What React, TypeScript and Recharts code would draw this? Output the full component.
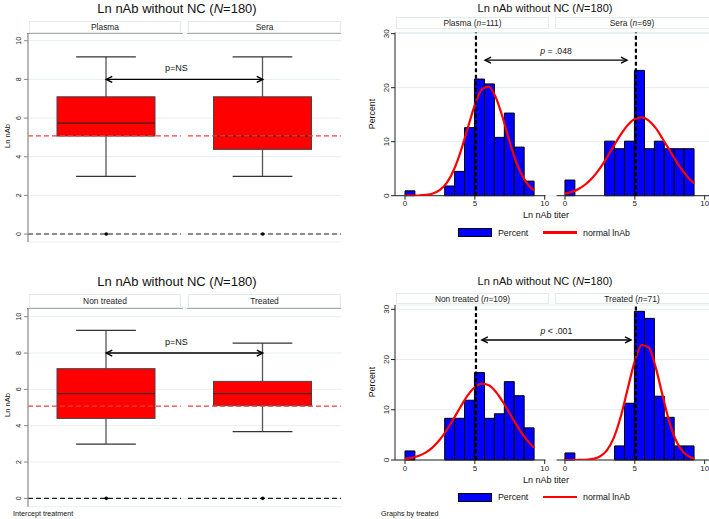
import React from "react";
import {
  ComposedChart,
  Bar,
  Line,
  XAxis,
  YAxis,
  CartesianGrid,
  ReferenceLine,
  ReferenceArea,
  ReferenceDot,
} from "recharts";

const FONT = '"Liberation Sans", Arial, Helvetica, sans-serif';

// box plots: Ln nAb by group
const boxTopCats = ["Plasma", "Sera"];
const boxTopLow = [2.98, 2.98];
const boxTopQ1 = [5.07, 4.38];
const boxTopMedian = [5.74, 5.07];
const boxTopQ3 = [7.1, 7.1];
const boxTopHigh = [9.17, 9.17];

const boxBotCats = ["Non treated", "Treated"];
const boxBotLow = [2.99, 3.67];
const boxBotQ1 = [4.4, 5.1];
const boxBotMedian = [5.76, 5.76];
const boxBotQ3 = [7.14, 6.44];
const boxBotHigh = [9.25, 8.55];

const boxTicks = [0, 2, 4, 6, 8, 10];
const cutoff = 5.08;
const boxArrowY = 8;

// histograms: percent per bin
const binEdges = [0, 0.71, 1.42, 2.13, 2.84, 3.55, 4.26, 4.97, 5.69, 6.4, 7.11, 7.82, 8.53, 9.24];
const pctPlasma = [0.9, 0, 0, 0, 1.8, 4.5, 12.6, 21.6, 20.7, 10.8, 15.3, 9.0, 2.7];
const pctSera = [2.9, 0, 0, 0, 10.1, 8.7, 10.1, 23.2, 8.7, 10.1, 8.7, 8.7, 8.7];
const pctNonTreated = [1.8, 0, 0, 0, 8.3, 8.3, 11.9, 17.4, 8.3, 9.2, 15.6, 12.8, 6.4];
const pctTreated = [1.4, 0, 0, 0, 0, 2.8, 11.3, 29.6, 28.2, 12.7, 8.5, 2.8, 2.8];

// normal density curves
const curveX = [0, 0.5, 1, 1.5, 2, 2.5, 3, 3.5, 4, 4.5, 5, 5.5, 6, 6.5, 7, 7.5, 8, 8.5, 9, 9.24];
const curvePlasma = [0.0, 0.01, 0.04, 0.14, 0.41, 1.06, 2.4, 4.8, 8.3, 12.6, 16.8, 19.7, 20.2, 18.2, 14.4, 9.9, 6.0, 3.2, 1.5, 1.0];
const curveSera = [0.38, 0.72, 1.29, 2.17, 3.42, 5.07, 7.06, 9.23, 11.35, 13.1, 14.2, 14.5, 13.9, 12.5, 10.5, 8.36, 6.23, 4.36, 2.87, 2.29];
const curveNonTreated = [0.21, 0.43, 0.84, 1.52, 2.57, 4.07, 6.02, 8.31, 10.7, 12.9, 14.5, 15.2, 14.9, 13.6, 11.6, 9.27, 6.9, 4.8, 3.12, 2.47];
const curveTreated = [0, 0, 0.01, 0.05, 0.21, 0.69, 1.92, 4.46, 8.7, 14.3, 19.7, 22.9, 22.4, 18.4, 12.7, 7.35, 3.58, 1.47, 0.51, 0.29];

const histYTicks = [0, 10, 20, 30];
const histTopStrips = [["Plasma", "111"], ["Sera", "69"]];
const histBotStrips = [["Non treated", "109"], ["Treated", "71"]];
// arrows: [left x, right x (right facet units), y]
const histTopArrow = [5.73, 4.44, 25.1];
const histBotArrow = [5.5, 4.73, 23.9];

// right facet is shifted on the shared x axis
const OFF = 11.45;
const histXTicks = [0, 5, 10, OFF, OFF + 5, OFF + 10];

const RotTick = (p: any) => (
  <text
    x={p.x}
    y={p.y}
    transform={`rotate(-90 ${p.x} ${p.y})`}
    textAnchor="middle"
    fontSize={p.fs}
    fontFamily={FONT}
    fill="#222"
  >
    {p.payload.value}
  </text>
);

const BoxShape = (props: any) => {
  const { x, y, width, height, payload } = props;
  const ppu = Math.abs(height) / (payload.high - payload.low);
  const top = Math.min(y, y + height);
  const py = (v: number) => top + (payload.high - v) * ppu;
  const cx = x + width / 2;
  const cap = width * 0.61;
  return (
    <g>
      <line x1={cx} x2={cx} y1={py(payload.high)} y2={py(payload.q3)} stroke="#555" strokeWidth={1.3} />
      <line x1={cx} x2={cx} y1={py(payload.q1)} y2={py(payload.low)} stroke="#555" strokeWidth={1.3} />
      <line x1={cx - cap / 2} x2={cx + cap / 2} y1={py(payload.high)} y2={py(payload.high)} stroke="#333" strokeWidth={1.3} />
      <line x1={cx - cap / 2} x2={cx + cap / 2} y1={py(payload.low)} y2={py(payload.low)} stroke="#333" strokeWidth={1.3} />
      <rect x={x} y={py(payload.q3)} width={width} height={py(payload.q1) - py(payload.q3)} fill="#ff0000" stroke="#444" strokeWidth={1} />
      <line x1={x} x2={x + width} y1={py(payload.median)} y2={py(payload.median)} stroke="#222" strokeWidth={1} />
    </g>
  );
};

// horizontal reference line broken between the two facets
const splitLine = (p: any) => {
  const mid = (p.x1 + p.x2) / 2;
  return (
    <g>
      <line x1={p.x1} x2={mid - 3.5} y1={p.y1} y2={p.y2} stroke={p.stroke} strokeWidth={p.strokeWidth} strokeDasharray={p.strokeDasharray} />
      <line x1={mid + 3.5} x2={p.x2} y1={p.y1} y2={p.y2} stroke={p.stroke} strokeWidth={p.strokeWidth} strokeDasharray={p.strokeDasharray} />
    </g>
  );
};

const arrowShape = (label: any, dx: number, dy: number, fs: number) => (p: any) => {
  const { x1, y1, x2 } = p;
  const h = 6;
  const w = 3;
  return (
    <g>
      <line x1={x1} y1={y1} x2={x2} y2={y1} stroke="#000" strokeWidth={1.4} />
      <polyline points={`${x1 + h},${y1 - w} ${x1},${y1} ${x1 + h},${y1 + w}`} fill="none" stroke="#000" strokeWidth={1.4} />
      <polyline points={`${x2 - h},${y1 - w} ${x2},${y1} ${x2 - h},${y1 + w}`} fill="none" stroke="#000" strokeWidth={1.4} />
      <text x={(x1 + x2) / 2 + dx} y={y1 - dy} textAnchor="middle" fontSize={fs} fontFamily={FONT} fill="#111">
        {label}
      </text>
    </g>
  );
};

const Txt = ({ x, y, size, children, rotate, align }: any) => (
  <div
    style={{
      position: "absolute",
      left: x,
      top: y,
      transform:
        (align === "left" ? "translate(0,-50%)" : "translate(-50%,-50%)") + (rotate ? " rotate(-90deg)" : ""),
      fontSize: size,
      whiteSpace: "nowrap",
      color: "#111",
      lineHeight: 1,
    }}
  >
    {children}
  </div>
);

const Strip = ({ x, y, w, h, size, children }: any) => (
  <div
    style={{
      position: "absolute",
      left: x,
      top: y,
      width: w,
      height: h,
      boxSizing: "border-box",
      border: "1px solid #e3ecec",
      display: "flex",
      alignItems: "center",
      justifyContent: "center",
      fontSize: size,
      color: "#222",
      whiteSpace: "nowrap",
    }}
  >
    {children}
  </div>
);

const Title = ({ x, y, size }: any) => (
  <Txt x={x} y={y} size={size}>
    Ln nAb without NC (<i>N</i>=180)
  </Txt>
);

function BoxPanel({ top, height, cats, low, q1, median, q3, high, yDomain, mTop, mBottom }: any) {
  const data = cats.map((c: string, i: number) => ({
    cat: c,
    low: low[i],
    q1: q1[i],
    median: median[i],
    q3: q3[i],
    high: high[i],
  }));
  return (
    <div style={{ position: "absolute", left: 0, top }}>
      <ComposedChart width={354} height={height} data={data} margin={{ top: mTop, right: 13, bottom: mBottom, left: 0 }}>
        <CartesianGrid vertical={false} stroke="#e6eff1" />
        <XAxis dataKey="cat" hide />
        <YAxis
          type="number"
          domain={yDomain}
          ticks={boxTicks}
          interval={0}
          allowDataOverflow
          width={28}
          axisLine={{ stroke: "#888", strokeWidth: 1.2 }}
          tickLine={{ stroke: "#888" }}
          tickSize={4}
          tickMargin={3}
          tick={(p: any) => <RotTick {...p} fs={7} />}
        />
        <ReferenceLine y={cutoff} stroke="#ff3b3b" strokeWidth={1.2} strokeDasharray="5 3" shape={splitLine} />
        <ReferenceLine y={0} stroke="#222" strokeWidth={1.1} strokeDasharray="5 3" shape={splitLine} />
        <Bar dataKey={(d: any) => [d.low, d.high]} barSize={98} shape={BoxShape} isAnimationActive={false} />
        <ReferenceDot x={cats[0]} y={0} r={1.8} fill="#000" stroke="none" />
        <ReferenceDot x={cats[1]} y={0} r={1.8} fill="#000" stroke="none" />
        <ReferenceLine
          segment={[
            { x: cats[0], y: boxArrowY },
            { x: cats[1], y: boxArrowY },
          ]}
          shape={arrowShape("p=NS", -8, 8, 9)}
        />
      </ComposedChart>
    </div>
  );
}

function HistPanel({ top, height, leftPct, rightPct, leftCurve, rightCurve, yTop, mTop, mBottom, arrow, pLabel }: any) {
  const leftData = curveX.map((x, i) => ({ x, y: leftCurve[i] }));
  const rightData = curveX.map((x, i) => ({ x: x + OFF, y: rightCurve[i] }));
  const bars: any[] = [];
  leftPct.forEach((v: number, i: number) => {
    if (v > 0) bars.push({ x1: binEdges[i], x2: binEdges[i + 1], v });
  });
  rightPct.forEach((v: number, i: number) => {
    if (v > 0) bars.push({ x1: binEdges[i] + OFF, x2: binEdges[i + 1] + OFF, v });
  });
  return (
    <div style={{ position: "absolute", left: 354, top }}>
      <ComposedChart width={355} height={height} margin={{ top: mTop, right: 0, bottom: mBottom, left: 0 }}>
        <CartesianGrid vertical={false} stroke="#e4eef0" />
        <XAxis
          type="number"
          dataKey="x"
          domain={[-0.716, 21.76]}
          allowDataOverflow
          ticks={histXTicks}
          interval={0}
          tickFormatter={(v: number) => (v > 10.5 ? String(Math.round(v - OFF)) : String(v))}
          axisLine={false}
          tickLine={{ stroke: "#222" }}
          tickSize={4}
          tickMargin={1}
          height={20}
          tick={{ fontSize: 8, fill: "#222", fontFamily: FONT }}
        />
        <YAxis
          type="number"
          domain={[0, yTop]}
          allowDataOverflow
          ticks={histYTicks}
          interval={0}
          width={41}
          axisLine={{ stroke: "#222" }}
          tickLine={{ stroke: "#222" }}
          tickSize={4}
          tickMargin={2}
          tick={(p: any) => <RotTick {...p} fs={8} />}
        />
        {bars.map((b, i) => (
          <ReferenceArea key={i} x1={b.x1} x2={b.x2} y1={0} y2={b.v} fill="#0000ff" fillOpacity={1} stroke="#000" strokeWidth={1} />
        ))}
        <ReferenceLine segment={[{ x: -0.716, y: 0 }, { x: 10.06, y: 0 }]} stroke="#222" strokeWidth={1} />
        <ReferenceLine segment={[{ x: OFF - 0.6, y: 0 }, { x: 21.76, y: 0 }]} stroke="#222" strokeWidth={1} />
        <Line data={leftData} dataKey="y" type="monotone" stroke="#ff0000" strokeWidth={2.2} dot={false} isAnimationActive={false} />
        <Line data={rightData} dataKey="y" type="monotone" stroke="#ff0000" strokeWidth={2.2} dot={false} isAnimationActive={false} />
        <ReferenceLine x={cutoff} stroke="#000" strokeWidth={2.2} strokeDasharray="4 2.5" />
        <ReferenceLine x={cutoff + OFF} stroke="#000" strokeWidth={2.2} strokeDasharray="4 2.5" />
        <ReferenceLine
          segment={[
            { x: arrow[0], y: arrow[2] },
            { x: arrow[1] + OFF, y: arrow[2] },
          ]}
          shape={arrowShape(pLabel, 0, 6, 8.7)}
        />
      </ComposedChart>
    </div>
  );
}

const Legend = ({ y }: any) => (
  <>
    <div style={{ position: "absolute", left: 458, top: y - 4.5, width: 34, height: 9, background: "#0000ff", border: "1px solid #000", boxSizing: "border-box" }} />
    <Txt x={498} y={y} size={8.8} align="left">Percent</Txt>
    <div style={{ position: "absolute", left: 543, top: y - 1.2, width: 34, height: 2.5, background: "#ff0000" }} />
    <Txt x={583} y={y} size={8.8} align="left">normal lnAb</Txt>
  </>
);

export default function App() {
  return (
    <div style={{ position: "relative", width: 709, height: 519, background: "#fff", fontFamily: FONT, overflow: "hidden" }}>
      <style>{`body{margin:0}`}</style>

      {/* top left: box plots by sample */}
      <Title x={177} y={8} size={13} />
      <Strip x={29} y={21} w={152} h={12} size={8.4}>{boxTopCats[0]}</Strip>
      <Strip x={188} y={21} w={153} h={12} size={8.4}>{boxTopCats[1]}</Strip>
      <div style={{ position: "absolute", left: 27, top: 33, width: 156, height: 1, background: "#666" }} />
      <div style={{ position: "absolute", left: 187, top: 33, width: 154, height: 1, background: "#666" }} />
      <Txt x={8} y={136} size={7.5} rotate>Ln nAb</Txt>
      <BoxPanel
        top={0}
        height={260}
        cats={boxTopCats}
        low={boxTopLow}
        q1={boxTopQ1}
        median={boxTopMedian}
        q3={boxTopQ3}
        high={boxTopHigh}
        yDomain={[-0.41, 10.4]}
        mTop={33}
        mBottom={18}
      />

      {/* bottom left: box plots by treatment */}
      <Title x={177} y={281} size={13} />
      <Strip x={29} y={294} w={152} h={14} size={8.4}>{boxBotCats[0]}</Strip>
      <Strip x={188} y={294} w={153} h={14} size={8.4}>{boxBotCats[1]}</Strip>
      <div style={{ position: "absolute", left: 27, top: 308, width: 156, height: 1, background: "#666" }} />
      <div style={{ position: "absolute", left: 187, top: 308, width: 154, height: 1, background: "#666" }} />
      <Txt x={8} y={405} size={7.5} rotate>Ln nAb</Txt>
      <BoxPanel
        top={260}
        height={259}
        cats={boxBotCats}
        low={boxBotLow}
        q1={boxBotQ1}
        median={boxBotMedian}
        q3={boxBotQ3}
        high={boxBotHigh}
        yDomain={[-0.46, 10.48]}
        mTop={48}
        mBottom={12.3}
      />
      <Txt x={13} y={514} size={7.2} align="left">Intercept treatment</Txt>

      {/* top right: histograms by sample */}
      <Title x={545} y={7.5} size={11} />
      <Strip x={396} y={17} w={153} h={12} size={8.4}>
        {histTopStrips[0][0]} (<i>n</i>={histTopStrips[0][1]})
      </Strip>
      <Strip x={555} y={17} w={160} h={12} size={8.4}>
        <span style={{ marginRight: 6 }}>
          {histTopStrips[1][0]} (<i>n</i>={histTopStrips[1][1]})
        </span>
      </Strip>
      <Txt x={372} y={114} size={8.8} rotate>Percent</Txt>
      <HistPanel
        top={0}
        height={260}
        leftPct={pctPlasma}
        rightPct={pctSera}
        leftCurve={curvePlasma}
        rightCurve={curveSera}
        yTop={30.2}
        mTop={32.6}
        mBottom={44.3}
        arrow={histTopArrow}
        pLabel={
          <>
            <tspan fontStyle="italic">p</tspan> = .048
          </>
        }
      />
      <Txt x={546} y={215} size={9}>Ln nAb titer</Txt>
      <Legend y={232.5} />

      {/* bottom right: histograms by treatment */}
      <Title x={545} y={281} size={11} />
      <Strip x={396} y={293} w={153} h={11} size={8.4}>
        {histBotStrips[0][0]} (<i>n</i>={histBotStrips[0][1]})
      </Strip>
      <Strip x={555} y={293} w={160} h={11} size={8.4}>
        <span style={{ marginRight: 6 }}>
          {histBotStrips[1][0]} (<i>n</i>={histBotStrips[1][1]})
        </span>
      </Strip>
      <Txt x={372} y={382} size={8.8} rotate>Percent</Txt>
      <HistPanel
        top={260}
        height={259}
        leftPct={pctNonTreated}
        rightPct={pctTreated}
        leftCurve={curveNonTreated}
        rightCurve={curveTreated}
        yTop={30.86}
        mTop={45}
        mBottom={39}
        arrow={histBotArrow}
        pLabel={
          <>
            <tspan fontStyle="italic">p</tspan> &lt; .001
          </>
        }
      />
      <Txt x={546} y={480} size={9}>Ln nAb titer</Txt>
      <Legend y={497} />
      <Txt x={381} y={514} size={7.2} align="left">Graphs by treated</Txt>
    </div>
  );
}
